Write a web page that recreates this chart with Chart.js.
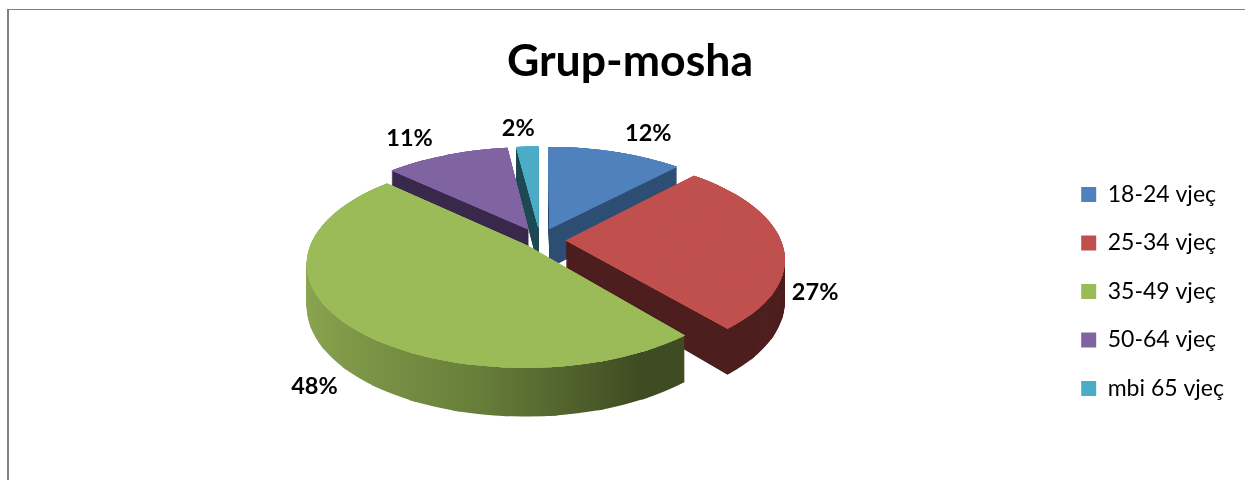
<!DOCTYPE html>
<html>
<head>
<meta charset="utf-8">
<title>Grup-mosha</title>
<script src="https://cdn.jsdelivr.net/npm/chart.js@4/dist/chart.umd.min.js"></script>
<style>
  html, body { margin: 0; background: #fff; }
  #frame { position: absolute; left: 7px; top: 9px; right: 0; bottom: 0;
           border-top: 1px solid #808080; border-left: 2px solid #808080; pointer-events: none; }
  canvas { position: absolute; left: 0; top: 0; }
</style>
</head>
<body>
<canvas id="pie" width="1245" height="480"></canvas>
<div id="frame"></div>
<script>
/* ---- Data ---- */
const ageGroups = ['18-24 vjeç', '25-34 vjeç', '35-49 vjeç', '50-64 vjeç', 'mbi 65 vjeç'];
const shares = [12, 27, 48, 11, 2];

/* ---- Style ---- */
const topColors = ['#4f81bd', '#c0504d', '#9bbb59', '#8064a2', '#4bacc6'];
const sideColors = ['#2f4f74', '#4e1f1f', null, '#3a2a4d', '#1f4a54'];
const slicePull = [0.12, 0.12, 0.08, 0.12, 0.12];
const paintOrder = [4, 3, 0, 1, 2];
const labelShifts = [[33, -19], [33, 49], [-32, 62], [-37, -17], [-9, -18]];

/* ---- Fake 3D view of the flat pie ---- */
const view = { cx: 540, cy: 240, rx: 215, ry: 99.5, persp: 0.17, depth: 40, wedge: 0.2 };

function project(u, v, z) {
  const f = 1 / (1 - view.persp * v);
  return [view.cx + view.rx * u * f, view.cy + (view.ry * v + view.depth * z) * f];
}

// affine through three point pairs
function affine(s, d) {
  const den = (s[0][0] - s[2][0]) * (s[1][1] - s[2][1]) - (s[1][0] - s[2][0]) * (s[0][1] - s[2][1]);
  const solve = (i) => {
    const p = ((d[0][i] - d[2][i]) * (s[1][1] - s[2][1]) - (d[1][i] - d[2][i]) * (s[0][1] - s[2][1])) / den;
    const q = ((s[0][0] - s[2][0]) * (d[1][i] - d[2][i]) - (s[1][0] - s[2][0]) * (d[0][i] - d[2][i])) / den;
    return [p, q, d[2][i] - p * s[2][0] - q * s[2][1]];
  };
  const [a, c, e] = solve(0);
  const [b, dd, f] = solve(1);
  return [a, b, c, dd, e, f];
}

// canvas transforms are affine only, so a slice is painted as thin wedges
function drawSlice(arc, ctx, fill, z, pull) {
  const start = arc.startAngle;
  const end = arc.endAngle;
  const mid = (start + end) / 2;
  const px = pull * Math.cos(mid);
  const py = pull * Math.sin(mid);
  const n = Math.max(1, Math.ceil((end - start) / view.wedge));
  const r = arc.outerRadius;
  const saved = arc.options;
  arc.options = Object.create(saved, {
    backgroundColor: { value: fill },
    borderColor: { value: fill },
  });
  for (let k = 0; k < n; k++) {
    const a0 = start + (end - start) * k / n;
    const a1 = start + (end - start) * (k + 1) / n;
    const m = affine(
      [[arc.x + r * Math.cos(a0), arc.y + r * Math.sin(a0)],
       [arc.x + r * Math.cos(a1), arc.y + r * Math.sin(a1)],
       [arc.x, arc.y]],
      [project(px + Math.cos(a0), py + Math.sin(a0), z),
       project(px + Math.cos(a1), py + Math.sin(a1), z),
       project(px, py, z)]
    );
    arc.startAngle = a0;
    arc.endAngle = k === n - 1 ? a1 : a1 + 0.03; // overlap hides the seams
    ctx.save();
    ctx.transform(...m);
    arc.draw(ctx);
    ctx.restore();
  }
  arc.startAngle = start;
  arc.endAngle = end;
  arc.options = saved;
}

const pie3d = {
  id: 'pie3d',
  beforeDatasetDraw(chart, args) {
    const ctx = chart.ctx;
    const arcs = args.meta.data;
    for (const i of paintOrder) {
      const arc = arcs[i];
      let side = sideColors[i];
      if (!side) {
        // green wall darkens from left to right
        side = ctx.createLinearGradient(arc.x - arc.outerRadius, 0, arc.x + arc.outerRadius * 0.65, 0);
        side.addColorStop(0, '#8ba650');
        side.addColorStop(0.5, '#677e3a');
        side.addColorStop(0.88, '#3f4b22');
        side.addColorStop(1, '#3f4b22');
      }
      const steps = Math.round(view.depth * 1.3);
      for (let s = steps; s > 0; s--) drawSlice(arc, ctx, side, s / steps, slicePull[i]);
      // repeated so the antialiased wedge joins fill in
      for (let pass = 0; pass < 4; pass++) drawSlice(arc, ctx, topColors[i], 0, slicePull[i]);
    }
    return false;
  },
  afterDraw(chart) {
    const ctx = chart.ctx;
    const arcs = chart.getDatasetMeta(0).data;
    ctx.save();
    ctx.font = 'bold 23.5px Lato';
    ctx.fillStyle = '#000';
    ctx.textAlign = 'center';
    ctx.textBaseline = 'middle';
    arcs.forEach((arc, i) => {
      const mid = (arc.startAngle + arc.endAngle) / 2;
      const reach = 1 + slicePull[i];
      const [x, y] = project(reach * Math.cos(mid), reach * Math.sin(mid), 0);
      ctx.fillText(shares[i] + '%', x + labelShifts[i][0], y + labelShifts[i][1]);
    });
    ctx.restore();
  },
};

Chart.defaults.font.family = 'Lato';
Chart.defaults.color = '#000';

new Chart(document.getElementById('pie'), {
  type: 'pie',
  data: {
    labels: ageGroups,
    datasets: [{
      data: shares,
      backgroundColor: topColors,
      borderWidth: 0,
      radius: 200,
      clip: false,
    }],
  },
  options: {
    responsive: false,
    animation: false,
    events: [],
    layout: { padding: { left: 26, right: 11, top: 35, bottom: -68 } },
    plugins: {
      title: {
        display: true,
        text: 'Grup-mosha',
        font: { size: 44.6, weight: 'bold' },
        padding: { top: 0, bottom: 20 },
      },
      legend: {
        position: 'right',
        labels: { boxWidth: 15, boxHeight: 15, padding: 25.5, font: { size: 23 } },
      },
      tooltip: { enabled: false },
    },
  },
  plugins: [pie3d],
});
</script>
</body>
</html>
